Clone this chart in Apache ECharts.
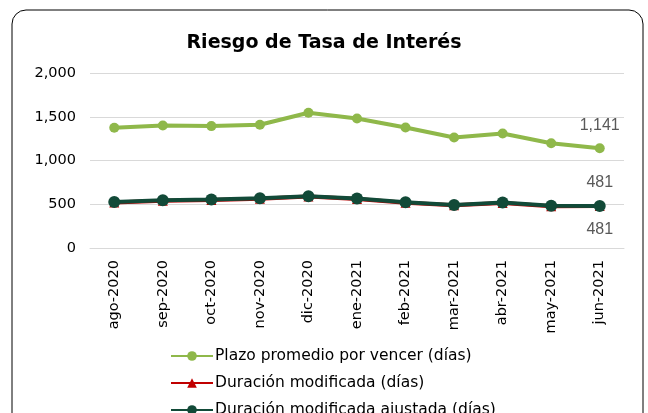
<!DOCTYPE html>
<html>
<head>
<meta charset="utf-8">
<script src="https://cdn.jsdelivr.net/npm/echarts@6/dist/echarts.min.js"></script>
<style>
  html, body { margin: 0; padding: 0; background: #fff; }
  #chart { width: 648px; height: 413px; }
</style>
</head>
<body>
<div id="chart"></div>
<script>
let months = ['ago-2020','sep-2020','oct-2020','nov-2020','dic-2020','ene-2021','feb-2021','mar-2021','abr-2021','may-2021','jun-2021'];
let plazo = [1374, 1401, 1393, 1408, 1546, 1481, 1378, 1263, 1309, 1198, 1141];
let duracion = [520, 540, 548, 564, 588, 560, 518, 488, 514, 478, 481];
let duracionAjustada = [527, 546, 553, 569, 592, 565, 523, 492, 519, 483, 481];
let yTicks = [0, 500, 1000, 1500, 2000];

let chart = echarts.init(document.getElementById('chart'));

// only the last point carries a label
function lastLabel(pos){
    return {
        show: true,
        position: pos,
        distance: 10,
        color: '#595959',
        fontFamily: 'Liberation Sans',
        fontSize: 16,
        formatter: p => p.dataIndex == months.length - 1 ? p.value.toLocaleString('en-US') : ''
    };
}

let options = {
    animation: false,
    title: {
        text: 'Riesgo de Tasa de Interés',
        left: 'center',
        top: 29,
        textStyle: { fontFamily: 'DejaVu Sans', fontSize: 19, fontWeight: 'bold', color: '#000' }
    },
    graphic: [{
        type: 'rect',
        shape: { x: 12, y: 10, width: 631, height: 430, r: 14 },
        style: { fill: 'none', stroke: '#000', lineWidth: 1 }
    }],
    grid: { left: 90, right: 24, top: 73, bottom: 165 },
    legend: {
        orient: 'vertical',
        left: 165,
        top: 343,
        height: 150,
        itemWidth: 42,
        itemHeight: 12,
        itemGap: 11,
        textStyle: { fontFamily: 'DejaVu Sans', fontSize: 15.5, color: '#000', padding: [0, 0, 0, -3] },
        data: ['Plazo promedio por vencer (días)', 'Duración modificada (días)', 'Duración modificada ajustada (días)']
    },
    xAxis: {
        type: 'category',
        data: months,
        boundaryGap: true,
        axisLine: { lineStyle: { color: '#d9d9d9' } },
        axisTick: { show: false },
        axisLabel: { rotate: 90, fontFamily: 'DejaVu Sans', fontSize: 14.5, color: '#000', margin: 12 }
    },
    yAxis: {
        type: 'value',
        min: yTicks[0],
        max: yTicks[yTicks.length - 1],
        interval: 500,
        axisLine: { show: false },
        axisTick: { show: false },
        splitLine: { lineStyle: { color: '#d9d9d9', width: 1 } },
        axisLabel: {
            fontFamily: 'DejaVu Sans', fontSize: 14.5, color: '#000', margin: 14,
            formatter: v => v.toLocaleString('en-US')
        }
    },
    series: [
        {
            name: 'Plazo promedio por vencer (días)',
            type: 'line',
            data: plazo,
            symbol: 'circle',
            symbolSize: 10,
            itemStyle: { color: '#8fb84a' },
            lineStyle: { width: 4, color: '#8fb84a' },
            label: lastLabel('top')
        },
        {
            name: 'Duración modificada (días)',
            type: 'line',
            data: duracion,
            symbol: 'triangle',
            symbolSize: 10,
            itemStyle: { color: '#c00000' },
            lineStyle: { width: 4, color: '#c00000' },
            label: lastLabel('top')
        },
        {
            name: 'Duración modificada ajustada (días)',
            type: 'line',
            data: duracionAjustada,
            symbol: 'circle',
            symbolSize: 12,
            itemStyle: { color: '#124a38' },
            lineStyle: { width: 4, color: '#124a38' },
            label: lastLabel('bottom')
        }
    ]
};

chart.setOption(options);
</script>
</body>
</html>
